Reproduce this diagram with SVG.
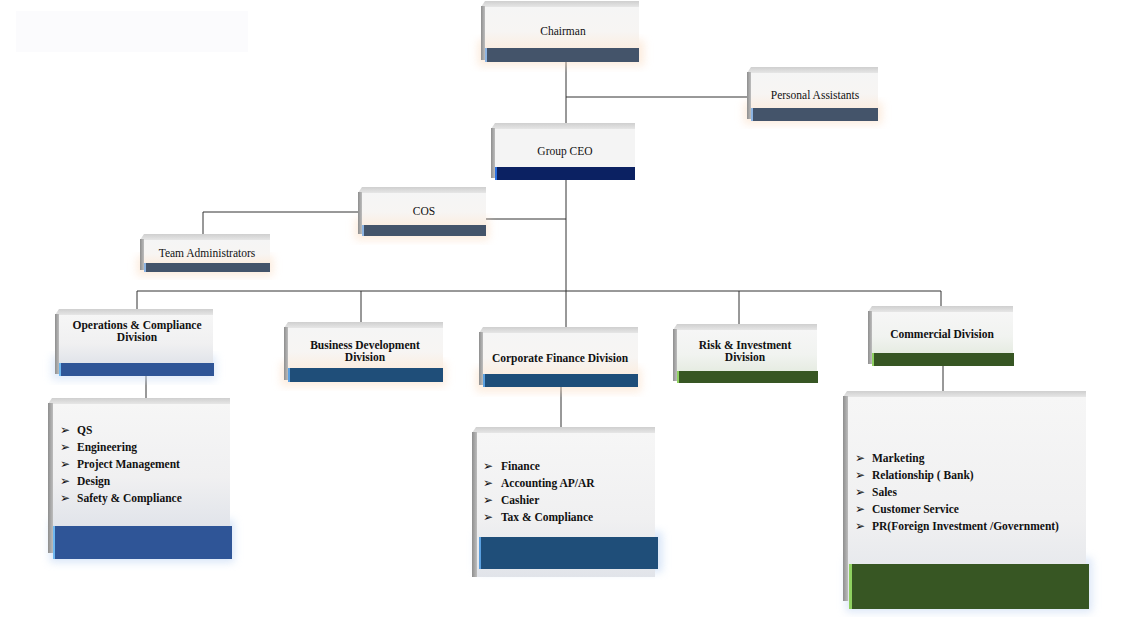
<svg xmlns="http://www.w3.org/2000/svg" width="1140" height="617" viewBox="0 0 1140 617">
<style>
.lbl{font-family:"Liberation Serif","Times New Roman",serif;font-size:11.5px;fill:#111;text-anchor:middle}
.blbl{font-family:"Liberation Serif","Times New Roman",serif;font-size:11.5px;font-weight:bold;fill:#111;text-anchor:middle}
.item{font-family:"Liberation Serif","Times New Roman",serif;font-size:11.5px;font-weight:bold;fill:#111}
.bul{font-family:"DejaVu Sans",sans-serif;font-size:12px;fill:#111}
.top{fill:url(#gTop)}
.side{fill:url(#gSide)}
.conn{stroke:#333;stroke-width:1;fill:none}
</style>
<defs>
<linearGradient id="gTop" x1="0" y1="0" x2="0" y2="1"><stop offset="0" stop-color="#cfcfcf"/><stop offset="1" stop-color="#e6e6e6"/></linearGradient>
<linearGradient id="gSide" x1="0" y1="0" x2="1" y2="0"><stop offset="0" stop-color="#8e8e8e"/><stop offset="1" stop-color="#bdbdbd"/></linearGradient>
<linearGradient id="fPeach" x1="0" y1="0" x2="0" y2="1"><stop offset="0" stop-color="#f5f5f5"/><stop offset="0.6" stop-color="#f7f5f3"/><stop offset="1" stop-color="#fbeee2"/></linearGradient>
<linearGradient id="fBlue" x1="0" y1="0" x2="0" y2="1"><stop offset="0" stop-color="#f6f6f6"/><stop offset="0.6" stop-color="#f0f0f1"/><stop offset="1" stop-color="#e1e4ea"/></linearGradient>
<linearGradient id="fGreen" x1="0" y1="0" x2="0" y2="1"><stop offset="0" stop-color="#f6f6f6"/><stop offset="0.6" stop-color="#f1f3f0"/><stop offset="1" stop-color="#e6ece2"/></linearGradient>
<filter id="blur" x="-20%" y="-20%" width="140%" height="140%"><feGaussianBlur stdDeviation="4"/></filter>
</defs>

<rect x="16" y="11" width="232" height="41" fill="#fbfbfd"/>

<g id="connectors">
<path class="conn" d="M566 62V123M566 97H747"/>
<path class="conn" d="M566 180V291M486 219H566M358 212H203V234"/>
<path class="conn" d="M137 291H941M137 291V309M361 291V322M566 291V327M739 291V324M941 291V306"/>
<path class="conn" d="M146 376V398M561 387V427M943 366V391"/>
</g>

<g id="chairman">
<rect x="478" y="40" width="166" height="26" fill="#f9d9bd" opacity="0.5" filter="url(#blur)"/>
<polygon class="top" points="481,7 485,1 639,1 639,7"/>
<rect class="side" x="481" y="6" width="4" height="54"/>
<rect x="485" y="7" width="154" height="41" fill="url(#fPeach)"/>
<rect x="485" y="48" width="154" height="14" fill="#44546a"/>
<rect x="485" y="48" width="2" height="14" fill="#8db4e2"/>
<text class="lbl" x="563" y="35">Chairman</text>
</g>

<g id="personal-assistants">
<rect x="744" y="102" width="138" height="22" fill="#f9d9bd" opacity="0.5" filter="url(#blur)"/>
<polygon class="top" points="747,73 751,67 878,67 878,73"/>
<rect class="side" x="747" y="72" width="4" height="47"/>
<rect x="751" y="73" width="127" height="35" fill="url(#fPeach)"/>
<rect x="751" y="108" width="127" height="13" fill="#44546a"/>
<rect x="751" y="108" width="2" height="13" fill="#8db4e2"/>
<text class="lbl" x="815" y="99">Personal Assistants</text>
</g>

<g id="group-ceo">
<polygon class="top" points="491,129 495,123 635,123 635,129"/>
<rect class="side" x="491" y="128" width="4" height="50"/>
<rect x="495" y="129" width="140" height="38" fill="#f4f4f4"/>
<rect x="495" y="167" width="140" height="13" fill="#0b2162"/>
<rect x="495" y="167" width="2" height="13" fill="#2a6fe0"/>
<text class="lbl" x="565" y="155">Group CEO</text>
</g>

<g id="cos">
<rect x="355" y="218" width="134" height="22" fill="#f9d9bd" opacity="0.5" filter="url(#blur)"/>
<polygon class="top" points="358,193 362,187 486,187 486,193"/>
<rect class="side" x="358" y="192" width="4" height="42"/>
<rect x="362" y="193" width="124" height="32" fill="url(#fPeach)"/>
<rect x="362" y="225" width="124" height="11" fill="#44546a"/>
<rect x="362" y="225" width="2" height="11" fill="#8db4e2"/>
<text class="lbl" x="424" y="215">COS</text>
</g>

<g id="team-administrators">
<rect x="137" y="256" width="136" height="20" fill="#f9d9bd" opacity="0.5" filter="url(#blur)"/>
<polygon class="top" points="140,240 144,234 270,234 270,240"/>
<rect class="side" x="140" y="239" width="4" height="31"/>
<rect x="144" y="240" width="126" height="23" fill="url(#fPeach)"/>
<rect x="144" y="263" width="126" height="9" fill="#44546a"/>
<rect x="144" y="263" width="2" height="9" fill="#8db4e2"/>
<text class="lbl" x="207" y="257">Team Administrators</text>
</g>

<g id="operations-compliance">
<rect x="52" y="356" width="164" height="24" fill="#c9dcf5" opacity="0.6" filter="url(#blur)"/>
<polygon class="top" points="55,315 59,309 213,309 213,315"/>
<rect class="side" x="55" y="314" width="4" height="60"/>
<rect x="59" y="315" width="154" height="48" fill="url(#fBlue)"/>
<rect x="59" y="363" width="155" height="13" fill="#2f5597"/>
<rect x="59" y="363" width="2" height="13" fill="#6fb8f0"/>
<text class="blbl" x="137" y="329">Operations &amp; Compliance</text>
<text class="blbl" x="137" y="341">Division</text>
</g>

<g id="business-development">
<rect x="281" y="362" width="165" height="24" fill="#f9d9bd" opacity="0.5" filter="url(#blur)"/>
<polygon class="top" points="284,328 288,322 443,322 443,328"/>
<rect class="side" x="284" y="327" width="4" height="53"/>
<rect x="288" y="328" width="155" height="40" fill="url(#fPeach)"/>
<rect x="288" y="368" width="155" height="14" fill="#1f4e79"/>
<rect x="288" y="368" width="2" height="14" fill="#5aa0e0"/>
<text class="blbl" x="365" y="349">Business Development</text>
<text class="blbl" x="365" y="361">Division</text>
</g>

<g id="corporate-finance">
<rect x="476" y="368" width="165" height="24" fill="#f9d9bd" opacity="0.5" filter="url(#blur)"/>
<polygon class="top" points="479,333 483,327 638,327 638,333"/>
<rect class="side" x="479" y="332" width="4" height="53"/>
<rect x="483" y="333" width="155" height="41" fill="url(#fPeach)"/>
<rect x="483" y="374" width="155" height="13" fill="#1f4e79"/>
<rect x="483" y="374" width="2" height="13" fill="#5aa0e0"/>
<text class="blbl" x="560" y="362">Corporate Finance Division</text>
</g>

<g id="risk-investment">
<polygon class="top" points="673,330 677,324 817,324 817,330"/>
<rect class="side" x="673" y="329" width="4" height="52"/>
<rect x="677" y="330" width="140" height="41" fill="url(#fGreen)"/>
<rect x="677" y="371" width="141" height="12" fill="#375623"/>
<rect x="677" y="371" width="2" height="12" fill="#8fd060"/>
<text class="blbl" x="745" y="349">Risk &amp; Investment</text>
<text class="blbl" x="745" y="361">Division</text>
</g>

<g id="commercial">
<polygon class="top" points="868,312 872,306 1013,306 1013,312"/>
<rect class="side" x="868" y="311" width="4" height="53"/>
<rect x="872" y="312" width="141" height="41" fill="url(#fGreen)"/>
<rect x="872" y="353" width="142" height="13" fill="#375623"/>
<rect x="872" y="353" width="2" height="13" fill="#8fd060"/>
<text class="blbl" x="942" y="338">Commercial Division</text>
</g>

<g id="operations-list">
<rect x="50" y="520" width="184" height="42" fill="#b9d1f2" opacity="0.6" filter="url(#blur)"/>
<polygon class="top" points="48,404 52,398 230,398 230,404"/>
<rect class="side" x="48" y="403" width="5" height="150"/>
<rect x="53" y="404" width="177" height="122" fill="url(#fBlue)"/>
<rect x="53" y="526" width="179" height="33" fill="#2f5597"/>
<rect x="53" y="526" width="2" height="33" fill="#6fb8f0"/>
<text class="bul" x="60" y="434">➢</text><text class="item" x="77" y="434">QS</text>
<text class="bul" x="60" y="451">➢</text><text class="item" x="77" y="451">Engineering</text>
<text class="bul" x="60" y="468">➢</text><text class="item" x="77" y="468">Project Management</text>
<text class="bul" x="60" y="485">➢</text><text class="item" x="77" y="485">Design</text>
<text class="bul" x="60" y="502">➢</text><text class="item" x="77" y="502">Safety &amp; Compliance</text>
</g>

<g id="corporate-finance-list">
<rect x="476" y="532" width="186" height="40" fill="#b9d1f2" opacity="0.6" filter="url(#blur)"/>
<polygon class="top" points="472,433 476,427 655,427 655,433"/>
<rect class="side" x="472" y="432" width="5" height="145"/>
<rect x="477" y="433" width="178" height="144" fill="url(#fBlue)"/>
<rect x="479" y="537" width="179" height="32" fill="#1f4e79"/>
<rect x="479" y="537" width="2" height="32" fill="#5aa0e0"/>
<text class="bul" x="483" y="470">➢</text><text class="item" x="501" y="470">Finance</text>
<text class="bul" x="483" y="487">➢</text><text class="item" x="501" y="487">Accounting AP/AR</text>
<text class="bul" x="483" y="504">➢</text><text class="item" x="501" y="504">Cashier</text>
<text class="bul" x="483" y="521">➢</text><text class="item" x="501" y="521">Tax &amp; Compliance</text>
</g>

<g id="commercial-list">
<rect x="846" y="558" width="246" height="54" fill="#c3d6f2" opacity="0.6" filter="url(#blur)"/>
<polygon class="top" points="843,397 847,391 1086,391 1086,397"/>
<rect class="side" x="843" y="396" width="5" height="205"/>
<rect x="848" y="397" width="238" height="204" fill="url(#fBlue)"/>
<rect x="849" y="564" width="240" height="45" fill="#375623"/>
<rect x="849" y="564" width="3" height="45" fill="#8fd060"/>
<text class="bul" x="855" y="462">➢</text><text class="item" x="872" y="462">Marketing</text>
<text class="bul" x="855" y="479">➢</text><text class="item" x="872" y="479">Relationship ( Bank)</text>
<text class="bul" x="855" y="496">➢</text><text class="item" x="872" y="496">Sales</text>
<text class="bul" x="855" y="513">➢</text><text class="item" x="872" y="513">Customer Service</text>
<text class="bul" x="855" y="530">➢</text><text class="item" x="872" y="530">PR(Foreign Investment /Government)</text>
</g>
</svg>
